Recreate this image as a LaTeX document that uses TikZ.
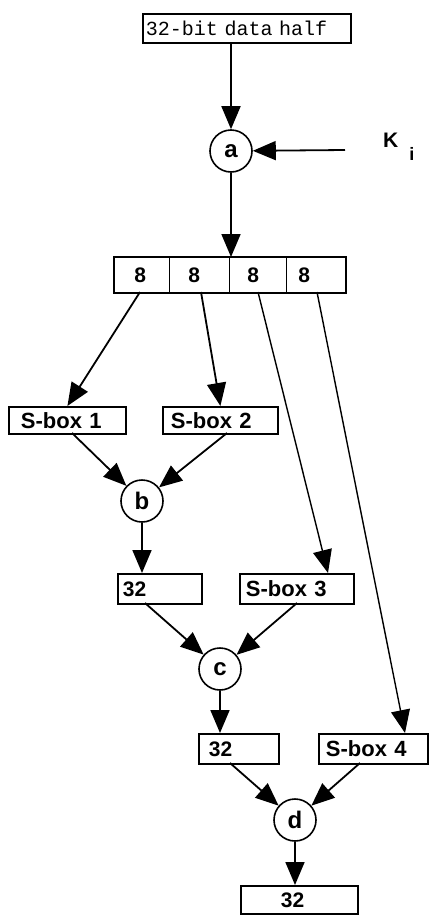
\documentclass[tikz,border=0pt]{standalone}
\usepackage{fontspec}
\setmainfont{Liberation Sans}
\newfontfamily\codefont{Liberation Mono}
\usetikzlibrary{arrows.meta}
\begin{document}
\begin{tikzpicture}[x=1pt,y=-1pt,
  frame/.style={draw, line width=1.8pt, inner sep=0pt, anchor=north west, align=left},
  lbl/.style={font=\bfseries\fontsize{22}{22}\selectfont, text height=15.8pt, text depth=0pt},
  num/.style={font=\bfseries\fontsize{21}{21}\selectfont, text height=15pt, text depth=0pt},
  cell/.style={draw, line width=0.8pt, inner sep=0pt, anchor=north west, minimum height=35pt, align=left, num},
  op/.style={circle, draw, line width=1.6pt, minimum size=42pt, inner sep=0pt, font=\bfseries\fontsize{24}{24}\selectfont},
  arr/.style={line width=1.8pt, -{Triangle[length=23pt,width=19pt]}},
  thin arr/.style={arr, line width=1.4pt},
]
\useasboundingbox (0,0) rectangle (429,916);

% input half and key mixing
\node[frame, minimum width=208pt, minimum height=29pt, text width=202pt,
      font=\codefont\fontsize{20}{20}\selectfont] (src) at (142,13) {32-bit data half};
\node[op] (a) at (231,151) {a};
\draw[arr] (a |- src.south) -- (a);
\node[font=\bfseries\fontsize{21}{21}\selectfont, anchor=base west, inner sep=0pt] (k) at (383,147)
  {K\hspace{11pt}\raisebox{-13pt}{\fontsize{18}{18}\selectfont i}};
\coordinate (kin) at (345,150);
\draw[arr] (kin) -- (a);

% four 8-bit fields
\node[cell, minimum width=55pt, text width=15pt] (c1) at (114,257) {8};
\node[cell, minimum width=60pt, text width=22pt] (c2) at (169,257) {8};
\node[cell, minimum width=57pt, text width=21pt] (c3) at (229,257) {8};
\node[cell, minimum width=59pt, text width=35pt] (c4) at (286,257) {8};
\draw[line width=1.8pt] (c1.north west) rectangle (c4.south east);
\draw[arr] (a) -- (a |- c3.north);

\coordinate (o1) at (140,292);
\coordinate (o2) at (201,292);
\coordinate (o3) at (258,292);
\coordinate (o4) at (317,292);

% S-boxes
\node[frame, lbl, minimum width=117pt, minimum height=27pt, text width=93pt] (s1) at (8,406) {S-box 1};
\node[frame, lbl, minimum width=115pt, minimum height=27pt, text width=99pt] (s2) at (162,406) {S-box 2};
\node[frame, lbl, minimum width=114pt, minimum height=30pt, text width=102pt] (s3) at (239,573) {S-box 3};
\node[frame, lbl, minimum width=109pt, minimum height=30pt, text width=95pt] (s4) at (318,733) {S-box 4};
\coordinate (i3) at (328,573);
\coordinate (i4) at (405,733);
\draw[arr] (o1) -- (s1.north);
\draw[arr] (o2) -- (s2.north);
\draw[thin arr] (o3) -- (i3);
\draw[thin arr] (o4) -- (i4);

% combining stages
\node[op] (b) at (142,501) {b};
\coordinate (s1o) at (72,433);
\coordinate (s2o) at (227,433);
\draw[arr] (s1o) -- (b);
\draw[arr] (s2o) -- (b);

\node[frame, num, minimum width=84pt, minimum height=30pt, text width=74pt] (p1) at (117,573) {32};
\draw[arr] (b) -- (b |- p1.north);

\node[op] (c) at (220,669) {c};
\coordinate (p1o) at (145,603);
\coordinate (s3o) at (297,603);
\draw[arr] (p1o) -- (c);
\draw[arr] (s3o) -- (c);

\node[frame, num, minimum width=80pt, minimum height=30pt, text width=60pt] (p2) at (198,733) {32};
\draw[arr] (c) -- (c |- p2.north);

\node[op] (d) at (295,820) {d};
\coordinate (p2o) at (230,763);
\coordinate (s4o) at (360,763);
\draw[arr] (p2o) -- (d);
\draw[arr] (s4o) -- (d);

\node[frame, num, minimum width=117pt, minimum height=28pt, text width=37pt] (p3) at (240,885) {32};
\draw[arr] (d) -- (d |- p3.north);
\end{tikzpicture}
\end{document}
